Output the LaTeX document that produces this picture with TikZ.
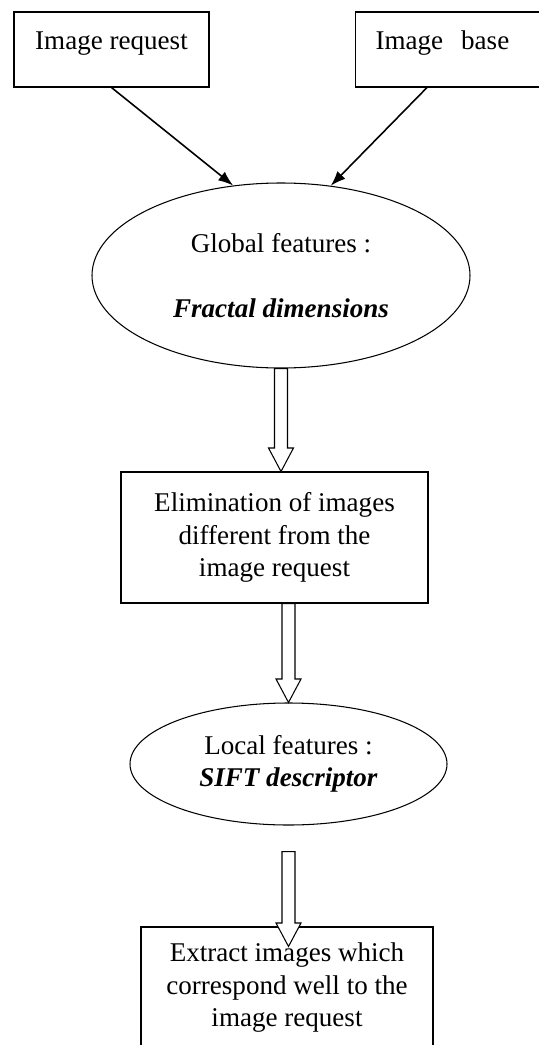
\documentclass[tikz,border=0pt]{standalone}
\usepackage{fontspec}
\setmainfont{Liberation Serif}
\usepackage{tikz}
\usetikzlibrary{calc,arrows.meta,shapes.geometric}
\def\hollowarrow(#1)(#2){\draw[line width=0.6pt, fill=white] ($(#1)+(-0.13,0)$) -- ($(#2)+(-0.13,0.47)$) -- ($(#2)+(-0.25,0.47)$) -- (#2) -- ($(#2)+(0.25,0.47)$) -- ($(#2)+(0.13,0.47)$) -- ($(#1)+(0.13,0)$) -- cycle;}
\tikzset{
	box/.style={draw, line width=0.6pt, rectangle, inner sep=0pt, align=center},
	oval/.style={draw, line width=0.6pt, ellipse, inner sep=0pt, align=center},
	feed/.style={line width=0.9pt, -{Latex[length=0.3cm, width=0.22cm]}}
}

\begin{document}
\begin{tikzpicture}[font=\fontsize{15.4}{18.5}\selectfont]
			%%%%% START %%%%%
			
			\useasboundingbox (0, 0) rectangle (10.76, -20.9);
			
			\node[box, minimum width=3.9cm, minimum height=1.5cm, text height=0.3cm, text depth=0.3cm] (request) at (2.23, -0.99) {Image request};
			\node[box, anchor=west, text width=3.4cm, align=left, inner xsep=0.4cm, minimum height=1.5cm, text height=0.3cm, text depth=0.3cm] (base) at (7.1, -0.99) {Image~~base};
			
			\node[oval, minimum width=7.56cm, minimum height=3.7cm] (global) at (5.62, -5.51) {Global features :\\[18.5pt] \textbf{\textit{Fractal dimensions}}};
			
			\draw[feed] (request.south) -- (global.118);
			\draw[feed] ([xshift=1.44cm]base.south west) -- (global.61);
			
			\node[box, minimum width=6.14cm, minimum height=2.62cm] (elim) at (5.49, -10.75) {Elimination of images\\different from the\\image request};
			
			\node[oval, minimum width=6.34cm, minimum height=2.44cm] (local) at (5.77, -15.28) {Local features :\\ \textbf{\textit{SIFT descriptor}}};
			
			\node[box, minimum width=5.84cm, minimum height=2.44cm] (extract) at (5.74, -19.76) {Extract images which\\correspond well to the\\image request};
			
			\coordinate (g1) at (global.south);
			\coordinate (g2) at (global.south |- elim.north);
			\coordinate (e1) at (local.north |- elim.south);
			\coordinate (e2) at (local.north);
			\coordinate (l1) at ($(local.south)+(0, -0.52)$);
			\coordinate (l2) at ($(local.south |- extract.north)+(0, -0.4)$);
			
			\hollowarrow(g1)(g2)
			\hollowarrow(e1)(e2)
			\hollowarrow(l1)(l2)
			
			%%%%% END %%%%%
\end{tikzpicture}
\end{document}
